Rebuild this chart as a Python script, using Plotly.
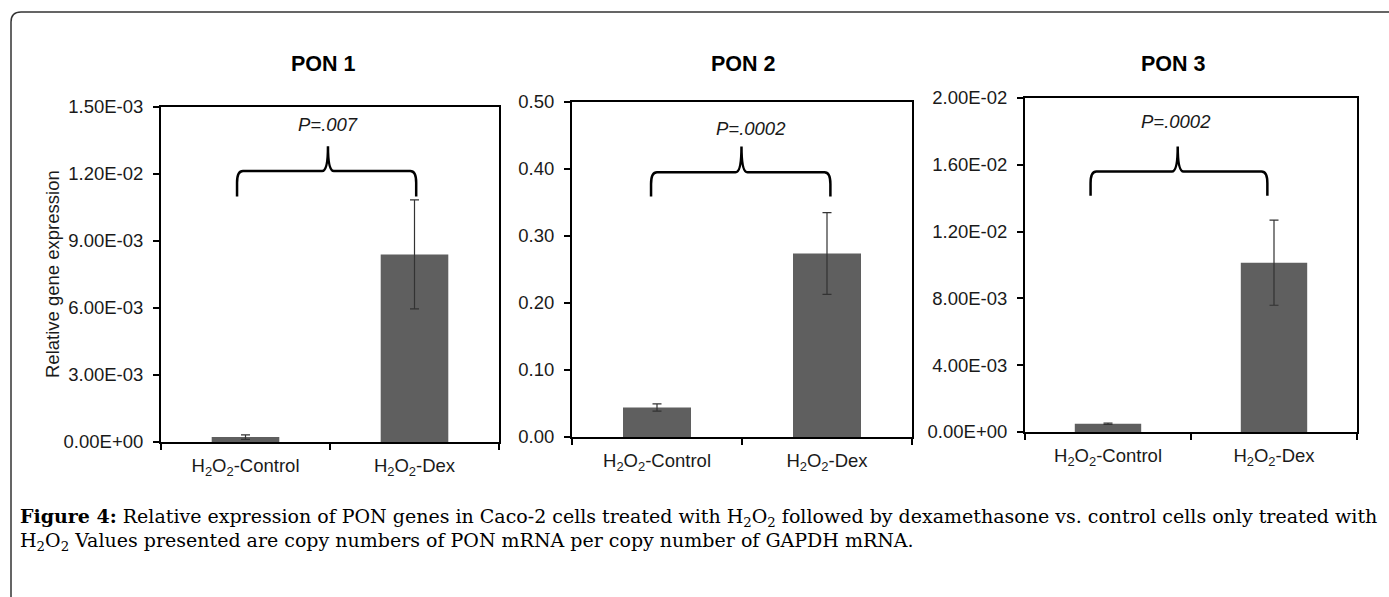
import plotly.graph_objects as go

W, H = 1389, 597

# ---------------- data ----------------
categories = ["H<sub>2</sub>O<sub>2</sub>-Control", "H<sub>2</sub>O<sub>2</sub>-Dex"]
panel_titles = ["PON 1", "PON 2", "PON 3"]
p_values = ["P=.007", "P=.0002", "P=.0002"]

pon1_values = [0.00022, 0.0084]
pon1_errors = [0.0001, 0.00244]
pon2_values = [0.044, 0.274]
pon2_errors = [0.0055, 0.061]
pon3_values = [0.0005, 0.01014]
pon3_errors = [0.00004, 0.00255]

pon1_ticks = [0, 0.003, 0.006, 0.009, 0.012, 0.015]
pon1_ticktext = ["0.00E+00", "3.00E-03", "6.00E-03", "9.00E-03", "1.20E-02", "1.50E-03"]
pon2_ticks = [0, 0.1, 0.2, 0.3, 0.4, 0.5]
pon2_ticktext = ["0.00", "0.10", "0.20", "0.30", "0.40", "0.50"]
pon3_ticks = [0, 0.004, 0.008, 0.012, 0.016, 0.020]
pon3_ticktext = ["0.00E+00", "4.00E-03", "8.00E-03", "1.20E-02", "1.60E-02", "2.00E-02"]

y_label = "Relative gene expression"
caption_line1 = ("<b>Figure 4:</b> Relative expression of PON genes in Caco-2 cells treated with "
                 "H<sub>2</sub>O<sub>2</sub> followed by dexamethasone vs. control cells only treated with")
caption_line2 = ("H<sub>2</sub>O<sub>2</sub> Values presented are copy numbers of PON mRNA per copy "
                 "number of GAPDH mRNA.")

values = [pon1_values, pon2_values, pon3_values]
errors = [pon1_errors, pon2_errors, pon3_errors]
ticks = [pon1_ticks, pon2_ticks, pon3_ticks]
ticktexts = [pon1_ticktext, pon2_ticktext, pon3_ticktext]

# ---------------- layout geometry (pixels) ----------------
boxes = [  # left, right, top, bottom in px
    (161, 499, 107, 442),
    (572, 912, 102, 437),
    (1025, 1357, 98, 432),
]
title_x_px = [323, 743, 1173]
braces = [
    dict(x0=-0.05, x1=1.01, xc=0.488, tip=0.733, hor=0.809, peak=0.883, tx=0.488, ty=0.948),
    dict(x0=-0.035, x1=1.02, xc=0.497, tip=0.718, hor=0.79, peak=0.867, tx=0.555, ty=0.922),
    dict(x0=-0.105, x1=0.96, xc=0.42, tip=0.707, hor=0.78, peak=0.855, tx=0.41, ty=0.93),
]

FONT = "Liberation Sans, Arial, sans-serif"
BAR = "#5f5f5f"

def px_x(p):
    return p / W

def px_y(p):
    return 1 - p / H

fig = go.Figure()
shapes = []
annotations = []

for i in range(3):
    xa = "x" if i == 0 else f"x{i+1}"
    ya = "y" if i == 0 else f"y{i+1}"
    l, r, t, b = boxes[i]
    ymax = ticks[i][-1]
    fig.add_trace(go.Bar(
        x=[0, 1], y=values[i], xaxis=xa, yaxis=ya, width=0.4,
        marker=dict(color=BAR, line=dict(width=0)),
        error_y=dict(type="data", array=errors[i], visible=True,
                     color="#333333", thickness=1.2, width=4.5),
        showlegend=False, hoverinfo="skip",
    ))
    axkey_x = "xaxis" if i == 0 else f"xaxis{i+1}"
    axkey_y = "yaxis" if i == 0 else f"yaxis{i+1}"
    fig.update_layout(**{
        axkey_x: dict(
            domain=[px_x(l), px_x(r)], anchor=ya, range=[-0.5, 1.5], automargin=False,
            tickvals=[0, 1], ticktext=categories, ticks="",
            showline=True, linecolor="black", linewidth=2, mirror=True,
            showgrid=False, zeroline=False, fixedrange=True,
            tickfont=dict(family=FONT, size=18.5, color="#1a1a1a"),
            ticklabelstandoff=6,
            minor=dict(tickvals=[-0.5, 0.5, 1.5], ticks="outside", ticklen=6,
                       tickwidth=2, tickcolor="black", showgrid=False),
        ),
        axkey_y: dict(
            domain=[px_y(b), px_y(t)], anchor=xa, range=[0, ymax], automargin=False,
            tickvals=ticks[i], ticktext=ticktexts[i], ticks="outside",
            ticklen=6, tickwidth=2, tickcolor="black",
            showline=True, linecolor="black", linewidth=2, mirror=True,
            showgrid=False, zeroline=False, fixedrange=True,
            tickfont=dict(family=FONT, size=18.5, color="#1a1a1a"),
            ticklabelstandoff=6,
        ),
    })
    annotations.append(dict(
        text=f"<b>{panel_titles[i]}</b>", x=px_x(title_x_px[i]), y=px_y(64),
        xref="paper", yref="paper", showarrow=False, xanchor="center", yanchor="middle",
        font=dict(family=FONT, size=21.5, color="black"),
    ))
    br = braces[i]
    yT, yH, yP = br["tip"] * ymax, br["hor"] * ymax, br["peak"] * ymax
    ry = 0.035 * ymax
    rx = 0.035
    x0, x1, xc = br["x0"], br["x1"], br["xc"]
    path = (f"M {x0},{yT} L {x0},{yH - ry} Q {x0},{yH} {x0 + rx},{yH} "
            f"L {xc - rx},{yH} Q {xc},{yH} {xc},{yP} "
            f"Q {xc},{yH} {xc + rx},{yH} L {x1 - rx},{yH} "
            f"Q {x1},{yH} {x1},{yH - ry} L {x1},{yT}")
    shapes.append(dict(type="path", path=path, xref=xa, yref=ya,
                       line=dict(color="black", width=2.5)))
    annotations.append(dict(
        text=f"<i>{p_values[i]}</i>", x=br["tx"], y=br["ty"] * ymax, xref=xa, yref=ya,
        showarrow=False, xanchor="center", yanchor="middle",
        font=dict(family=FONT, size=18.5, color="#1a1a1a"),
    ))

annotations.append(dict(
    text=y_label, x=px_x(52), y=px_y(274), xref="paper", yref="paper",
    showarrow=False, textangle=-90, xanchor="center", yanchor="middle",
    font=dict(family=FONT, size=18.5, color="#1a1a1a"),
))

SERIF = "DejaVu Serif, serif"
annotations.append(dict(
    text=caption_line1, x=px_x(18), y=px_y(517), xref="paper", yref="paper",
    showarrow=False, xanchor="left", yanchor="middle", align="left",
    font=dict(family=SERIF, size=19, color="black"),
))
annotations.append(dict(
    text=caption_line2, x=px_x(18), y=px_y(541), xref="paper", yref="paper",
    showarrow=False, xanchor="left", yanchor="middle", align="left",
    font=dict(family=SERIF, size=19, color="black"),
))

rr = 10
bx, by = 11, 12
border = (f"M {px_x(bx)},{px_y(H + 20)} L {px_x(bx)},{px_y(by + rr)} "
          f"Q {px_x(bx)},{px_y(by)} {px_x(bx + rr)},{px_y(by)} L {px_x(W + 20)},{px_y(by)}")
shapes.append(dict(type="path", path=border, xref="paper", yref="paper",
                   line=dict(color="#333333", width=1.5)))

fig.update_layout(
    width=W, height=H, autosize=False, margin=dict(l=0, r=0, t=0, b=0, pad=0),
    paper_bgcolor="white", plot_bgcolor="white",
    shapes=shapes, annotations=annotations, bargap=0.6,
)

fig.write_html("out.html", config={"displayModeBar": False, "responsive": False},
               post_script="document.body.style.margin='0px';"
                           "document.documentElement.style.overflow='hidden';"
                           "document.body.style.overflow='hidden';")
